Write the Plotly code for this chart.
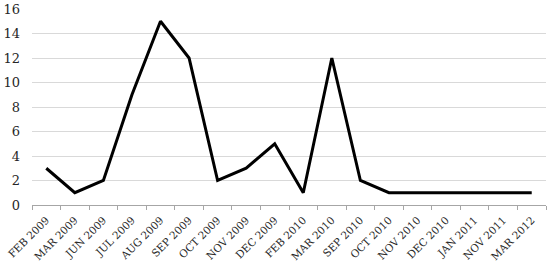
import plotly.graph_objects as go

categories = ["FEB 2009", "MAR 2009", "JUN 2009", "JUL 2009", "AUG 2009", "SEP 2009",
              "OCT 2009", "NOV 2009", "DEC 2009", "FEB 2010", "MAR 2010", "SEP 2010",
              "OCT 2010", "NOV 2010", "DEC 2010", "JAN 2011", "NOV 2011", "MAR 2012"]
values = [3, 1, 2, 9, 15, 12, 2, 3, 5, 1, 12, 2, 1, 1, 1, 1, 1, 1]
y_ticks = [0, 2, 4, 6, 8, 10, 12, 14, 16]

fig = go.Figure(go.Scatter(x=categories, y=values, mode="lines",
                           line=dict(color="black", width=3), hoverinfo="skip"))

fig.update_layout(
    width=548, height=268,
    margin=dict(l=32, r=2, t=9, b=63, autoexpand=False),
    paper_bgcolor="white", plot_bgcolor="white",
    showlegend=False,
    font=dict(family="DejaVu Serif", size=11, color="#262626"),
)
fig.update_xaxes(type="category", range=[-0.5, 17.5], tickangle=-45, automargin=False,
                 ticks="outside", tickson="boundaries", ticklen=4, tickcolor="#a6a6a6",
                 showline=True, linecolor="#a6a6a6", linewidth=1, showgrid=False,
                 ticklabelstandoff=4,
                 tickfont=dict(family="DejaVu Serif", size=10.5, color="#262626"))
fig.update_yaxes(range=[0, 16], tickvals=y_ticks, showgrid=True, gridcolor="#d9d9d9",
                 gridwidth=1, zeroline=False, showline=False, ticks="", automargin=False,
                 ticklabelstandoff=11,
                 tickfont=dict(family="DejaVu Serif", size=13, color="#262626"))

fig.write_html("out.html", config={"displayModeBar": False},
               post_script="document.body.style.margin='0';document.body.style.padding='0';")
